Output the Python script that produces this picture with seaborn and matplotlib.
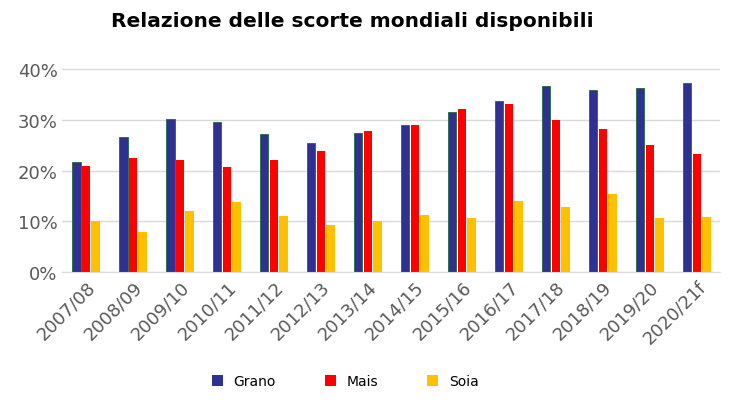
import matplotlib
matplotlib.use("Agg")
import matplotlib.pyplot as plt
import seaborn as sns
import pandas as pd
from matplotlib.ticker import PercentFormatter

years = ["2007/08","2008/09","2009/10","2010/11","2011/12","2012/13","2013/14",
         "2014/15","2015/16","2016/17","2017/18","2018/19","2019/20","2020/21f"]
grano = [21.7,26.7,30.2,29.5,27.2,25.4,27.5,29.0,31.6,33.8,36.6,35.9,36.2,37.3]
mais = [20.9,22.6,22.2,20.7,22.1,23.8,27.9,29.1,32.2,33.2,30.0,28.2,25.1,23.3]
soia = [10.0,8.0,12.0,13.9,11.0,9.3,10.0,11.3,10.7,14.1,12.8,15.5,10.7,10.8]

df = pd.DataFrame({"anno": years*3,
                   "val": grano+mais+soia,
                   "serie": ["Grano"]*14+["Mais"]*14+["Soia"]*14})

fig, ax = plt.subplots(figsize=(7.35,4.14), dpi=100)
fig.subplots_adjust(left=0.085, right=0.98, top=0.855, bottom=0.34)
sns.barplot(data=df, x="anno", y="val", hue="serie", ax=ax, saturation=1,
            palette=["#2E3192","#FF0000","#FFC000"], width=0.62, gap=0.12,
            edgecolor="none", legend=True)
for bar in ax.containers[0]:
    bar.set_edgecolor("#1E6B3A"); bar.set_linewidth(0.6)
ax.set_ylim(0,42)
ax.set_yticks([0,10,20,30,40])
ax.yaxis.set_major_formatter(PercentFormatter(decimals=0))
ax.grid(axis="y", color="#D9D9D9", lw=1)
ax.set_axisbelow(True)
for s in ["top","right","left"]:
    ax.spines[s].set_visible(False)
ax.spines["bottom"].set_color("#D9D9D9")
ax.tick_params(axis="both", length=0, labelsize=13, colors="#595959")
plt.setp(ax.get_xticklabels(), rotation=45, ha="right", rotation_mode="anchor")
ax.set_xlabel(""); ax.set_ylabel("")
ax.set_title("Relazione delle scorte mondiali disponibili", fontsize=14.5,
             fontweight="bold", x=0.44, pad=24)
ax.legend(loc="upper center", bbox_to_anchor=(0.43,-0.42), ncol=3, frameon=False,
          fontsize=10, handlelength=0.8, handleheight=0.8, columnspacing=3.5)
fig.savefig("out.png")
